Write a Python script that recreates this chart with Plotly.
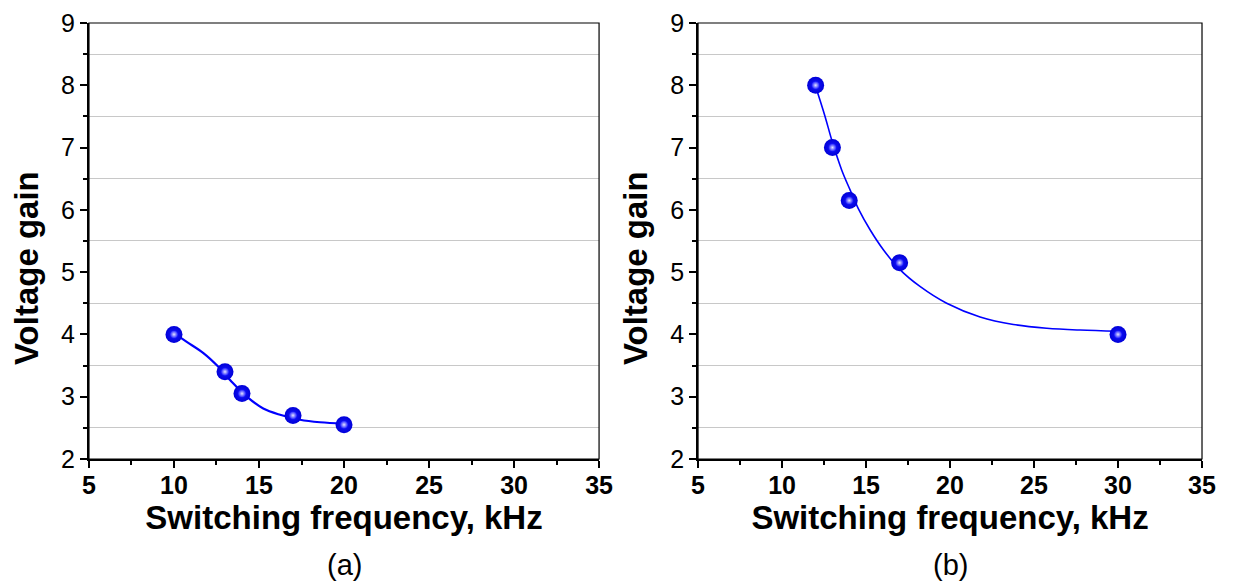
import plotly.graph_objects as go
from plotly.subplots import make_subplots

# panel (a) measured points
freq_a = [10, 13, 14, 17, 20]
gain_a = [4.0, 3.4, 3.05, 2.7, 2.55]
# panel (a) fitted curve
fit_fa = [10.0, 10.75, 11.73, 12.61, 13.39, 14.28, 15.25, 16.24, 17.41, 18.59, 20.0]
fit_ga = [4.02, 3.88, 3.70, 3.48, 3.24, 3.00, 2.81, 2.71, 2.63, 2.59, 2.57]

# panel (b) measured points
freq_b = [12, 13, 14, 17, 30]
gain_b = [8.0, 7.0, 6.15, 5.15, 4.0]
# panel (b) fitted curve
fit_fb = [12.0, 12.56, 12.96, 13.55, 14.05, 14.54, 15.24, 16.03, 17.02, 18.21,
          19.8, 21.79, 23.77, 25.76, 27.74, 30.0]
fit_gb = [7.98, 7.50, 7.12, 6.64, 6.32, 6.02, 5.68, 5.36, 5.04, 4.77,
          4.50, 4.28, 4.16, 4.10, 4.07, 4.05]

x_title = "Switching frequency, kHz"
y_title = "Voltage gain"
panel_labels = ["(a)", "(b)"]

FONT = "Liberation Sans, Arial, sans-serif"
BLUE = "#0000ff"

fig = make_subplots(rows=1, cols=2)

panels = [(freq_a, gain_a, fit_fa, fit_ga), (freq_b, gain_b, fit_fb, fit_gb)]
for col, (fx, gy, cx, cy) in enumerate(panels, start=1):
    fig.add_trace(go.Scatter(
        x=cx, y=cy, mode="lines",
        line=dict(color=BLUE, width=1.6 if col == 2 else 2.2, shape="spline"),
        showlegend=False, hoverinfo="skip"), row=1, col=col)
    # sphere body (radial gradient: edge = marker colour, centre = gradient colour)
    fig.add_trace(go.Scatter(
        x=fx, y=gy, mode="markers",
        marker=dict(size=17, color="#0000d8",
                    gradient=dict(type="radial", color="#1818ff"),
                    line=dict(width=0)),
        showlegend=False), row=1, col=col)
    # highlight
    fig.add_trace(go.Scatter(
        x=fx, y=gy, mode="markers",
        marker=dict(size=8, color="#1818ff",
                    gradient=dict(type="radial", color="#e4e4ff"),
                    line=dict(width=0)),
        showlegend=False, hoverinfo="skip"), row=1, col=col)

# the page adds an 8px body margin, so the figure is 8px smaller
dom_x = [[0.0661, 0.4825], [0.5633, 0.9747]]
dom_y = [0.2143, 0.9739]

for i, name in enumerate(["", "2"]):
    fig.layout["xaxis" + name].update(
        domain=dom_x[i], range=[5, 35], dtick=5, tick0=5, automargin=False,
        showline=True, linecolor="black", linewidth=2,
        ticks="outside", ticklen=7, tickwidth=1.5, tickcolor="black",
        ticklabelstandoff=-4,
        tickfont=dict(family=FONT, size=25, color="black", weight="bold"),
        minor=dict(dtick=2.5, ticks="outside", ticklen=4, tickcolor="black"),
        showgrid=False, zeroline=False,
        title=dict(text=x_title, standoff=3,
                   font=dict(family=FONT, size=33, color="black", weight="bold")))
    fig.layout["yaxis" + name].update(
        domain=dom_y, range=[2, 9], dtick=1, automargin=False,
        showline=True, linecolor="black", linewidth=2,
        ticks="outside", ticklen=7, tickwidth=1.5, tickcolor="black",
        tickfont=dict(family=FONT, size=25, color="black"),
        minor=dict(dtick=0.5, ticks="outside", ticklen=4, tickcolor="black",
                   showgrid=True, gridcolor="#c8c8c8", gridwidth=1),
        showgrid=False, zeroline=False)
    xr = "x" + name
    yr = "y" + name
    # thin frame on top and right
    fig.add_shape(type="rect", xref=xr + " domain", yref=yr + " domain",
                  x0=0, x1=1, y0=0, y1=1, line=dict(color="black", width=1.2),
                  layer="above")
    # y title placed to match the reference offset
    fig.add_annotation(text=y_title, textangle=-90, xref=xr + " domain",
                       yref=yr + " domain", x=0, y=0.438, xshift=-63,
                       xanchor="center", yanchor="middle", showarrow=False,
                       font=dict(family=FONT, size=33, color="black", weight="bold"))
    fig.add_annotation(text=panel_labels[i], xref=xr + " domain", yref="paper",
                       x=0.5, y=0.030, xanchor="center", yanchor="middle",
                       showarrow=False,
                       font=dict(family=FONT, size=29, color="black"))

fig.update_layout(
    width=1225, height=574,
    margin=dict(l=0, r=0, t=0, b=0),
    plot_bgcolor="white", paper_bgcolor="white",
    font=dict(family=FONT, color="black"),
)

fig.write_html("out.html")
